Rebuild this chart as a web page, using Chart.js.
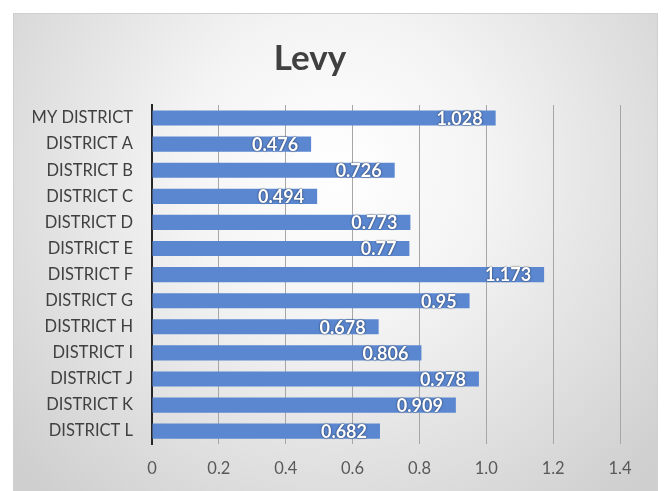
<!DOCTYPE html>
<html>
<head>
<meta charset="utf-8">
<script src="https://cdn.jsdelivr.net/npm/chart.js@4"></script>
<style>
html,body{margin:0;padding:0;background:#fff;}
#wrap{width:665px;height:491px;}
</style>
</head>
<body>
<div id="wrap"><canvas id="c" width="665" height="491"></canvas></div>
<script>
const categories = ["MY DISTRICT","DISTRICT A","DISTRICT B","DISTRICT C","DISTRICT D","DISTRICT E","DISTRICT F","DISTRICT G","DISTRICT H","DISTRICT I","DISTRICT J","DISTRICT K","DISTRICT L"];
const levy = [1.028,0.476,0.726,0.494,0.773,0.77,1.173,0.95,0.678,0.806,0.978,0.909,0.682];
const titleText = "Levy";

const bgPlugin = {
  id: 'bg',
  beforeDraw(chart) {
    const ctx = chart.ctx;
    ctx.save();
    ctx.fillStyle = '#ffffff';
    ctx.fillRect(0, 0, chart.width, chart.height);
    const g = ctx.createRadialGradient(335, 170, 0, 335, 170, 430);
    g.addColorStop(0, '#ffffff');
    g.addColorStop(0.35, '#f4f4f4');
    g.addColorStop(1, '#cfcfcf');
    ctx.fillStyle = g;
    ctx.fillRect(13, 13, 645, 478);
    ctx.strokeStyle = '#d0d0d0';
    ctx.lineWidth = 1;
    ctx.strokeRect(13.5, 13.5, 644, 478);
    ctx.restore();
  }
};

const labelPlugin = {
  id: 'vlabels',
  afterDatasetsDraw(chart) {
    const ctx = chart.ctx;
    const meta = chart.getDatasetMeta(0);
    ctx.save();
    ctx.font = 'bold 18px Lato, "Open Sans", sans-serif';
    ctx.textAlign = 'right';
    ctx.textBaseline = 'middle';
    meta.data.forEach((bar, i) => {
      const txt = String(chart.data.datasets[0].data[i]);
      ctx.shadowColor = 'rgba(0,0,0,0.75)';
      ctx.shadowBlur = 2;
      ctx.shadowOffsetX = 0;
      ctx.shadowOffsetY = 0;
      ctx.fillStyle = '#ffffff';
      ctx.fillText(txt, bar.x - 13, bar.y + 1);
    });
    ctx.restore();
  }
};

new Chart(document.getElementById('c'), {
  type: 'bar',
  data: {
    labels: categories,
    datasets: [{
      data: levy,
      backgroundColor: '#5b87d0',
      borderWidth: 0,
      barPercentage: 0.58,
      categoryPercentage: 1.0
    }]
  },
  plugins: [bgPlugin, labelPlugin],
  options: {
    indexAxis: 'y',
    responsive: false,
    animation: false,
    devicePixelRatio: 1,
    layout: { padding: { left: 0, right: 45, top: 0, bottom: -3 } },
    plugins: {
      legend: { display: false },
      tooltip: { enabled: false },
      title: {
        display: true,
        text: titleText,
        color: '#404040',
        font: { family: 'Lato, "Open Sans", sans-serif', size: 35, weight: 'bold', lineHeight: 1.2 },
        padding: { top: 38, bottom: 25 }
      }
    },
    scales: {
      x: {
        min: 0,
        max: 1.4,
        ticks: {
          stepSize: 0.2,
          color: '#595959',
          font: { family: 'Lato, "Open Sans", sans-serif', size: 16.5 },
          padding: 15
        },
        grid: { color: '#a6a6a6', lineWidth: 1, drawTicks: false },
        border: { display: false }
      },
      y: {
        afterFit(scale) { scale.width = 152; },
        ticks: {
          color: '#404040',
          font: { family: 'Lato, "Open Sans", sans-serif', size: 16.5 },
          padding: 19
        },
        grid: { display: false, drawTicks: false },
        border: { display: true, color: '#262626', width: 2 }
      }
    }
  }
});
</script>
</body>
</html>
